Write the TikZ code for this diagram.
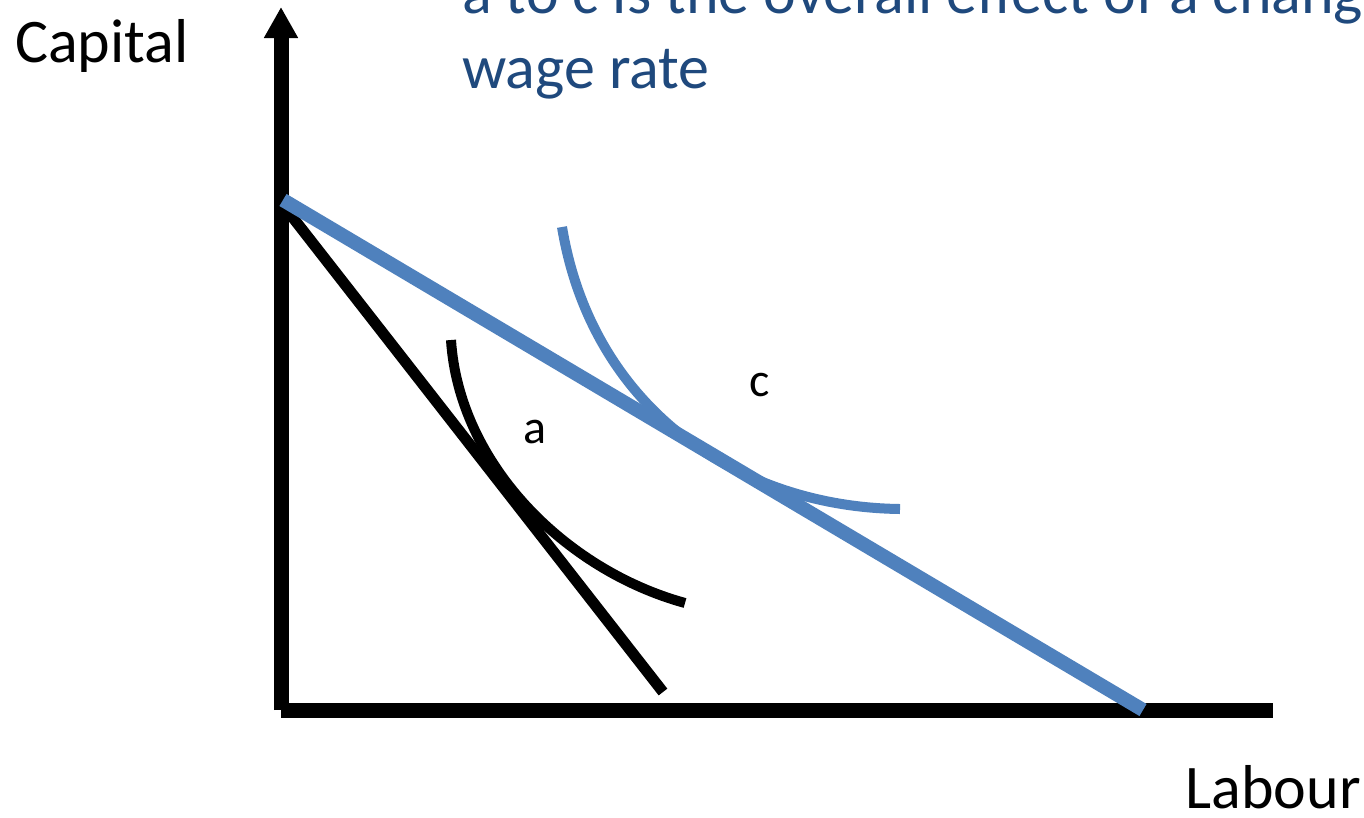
\documentclass[tikz,border=0pt]{standalone}
\usepackage{fontspec}
\setmainfont{Carlito}
\usepackage{xcolor}
\usetikzlibrary{arrows.meta, positioning}

\definecolor{lineblue}{RGB}{79,129,189}
\definecolor{titleblue}{RGB}{31,73,125}

\begin{document}
\begin{tikzpicture}[
  x=1pt, y=-1pt,
  axis/.style={draw=black, line width=15},
  budget/.style={line width=11},
  isoquant/.style={line width=10},
  label/.style={font=\fontsize{62}{74}\selectfont, inner sep=0pt},
  pointlabel/.style={font=\fontsize{48}{58}\selectfont, inner sep=0pt}
]
  \clip (0,0) rectangle (1364,817);
  \fill[white] (0,0) rectangle (1364,817);

  % axes
  \coordinate (origin) at (281,710);
  \coordinate (ytop)   at (281,7);
  \coordinate (xend)   at (1273,710);
  \draw[axis, -{Triangle[width=32,length=31]}] (origin) -- (ytop);
  \draw[axis] (origin) -- (xend);

  % budget lines
  \coordinate (kold) at (283,205);
  \coordinate (lold) at (663,692);
  \coordinate (knew) at (283,200);
  \coordinate (lnew) at (1143,710);
  \draw[budget] (kold) -- (lold);

  % isoquants
  \coordinate (astart) at (451,340);
  \coordinate (aend)   at (685,603);
  \coordinate (cstart) at (562,227);
  \coordinate (cend)   at (900,509);
  \draw[isoquant] (astart) .. controls (459,464) and (565,570) .. (aend);
  \draw[budget, lineblue, line width=14] (knew) -- (lnew);
  \draw[isoquant, lineblue] (cstart) .. controls (592,408) and (738,507) .. (cend);

  % labels
  \node[pointlabel] (a) at (535,432) {a};
  \node[pointlabel] (c) at (760,385) {c};
  \node[label, anchor=base west] (ylab) at (15,62) {Capital};
  \node[label, anchor=base east] (xlab) at (1361,808) {Labour};
  \node[label, anchor=base west, text=titleblue] (head1) at (462,13)
    {a to c is the overall effect of a change in the};
  \node[label, anchor=base west, text=titleblue] (head2) at (462,88) {wage rate};
\end{tikzpicture}
\end{document}
